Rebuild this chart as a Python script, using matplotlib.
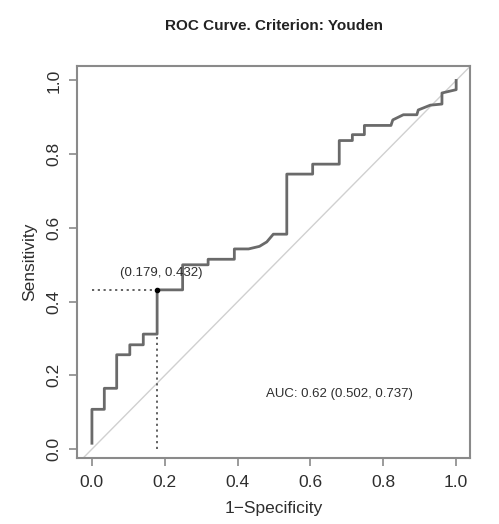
import matplotlib
matplotlib.use("Agg")
import matplotlib.pyplot as plt

plt.rcParams['font.family'] = ['Liberation Sans', 'DejaVu Sans']

# ROC curve points (1-specificity, sensitivity)
fpr = [0.0, 0.0, 0.034, 0.034, 0.068, 0.068, 0.104, 0.104, 0.141, 0.141,
       0.179, 0.179, 0.249, 0.249, 0.319, 0.319, 0.391, 0.391, 0.43, 0.46,
       0.48, 0.498, 0.535, 0.535, 0.606, 0.606, 0.679, 0.679, 0.715, 0.715,
       0.748, 0.748, 0.821, 0.826, 0.855, 0.892, 0.896, 0.929, 0.961, 0.961,
       1.0, 1.0]
tpr = [0.016, 0.108, 0.108, 0.165, 0.165, 0.256, 0.256, 0.283, 0.283, 0.312,
       0.312, 0.432, 0.432, 0.500, 0.500, 0.515, 0.515, 0.543, 0.543, 0.550,
       0.562, 0.583, 0.583, 0.746, 0.746, 0.773, 0.773, 0.837, 0.837, 0.853,
       0.853, 0.878, 0.878, 0.893, 0.907, 0.907, 0.920, 0.933, 0.936, 0.966,
       0.975, 1.0]

# Youden optimal cut point
best_fpr, best_tpr = 0.179, 0.432
auc_text = "AUC: 0.62 (0.502, 0.737)"
ticks = [0.0, 0.2, 0.4, 0.6, 0.8, 1.0]

fig = plt.figure(figsize=(4.99, 5.24), dpi=100)
ax = fig.add_axes([0.1543, 0.126, 0.7876, 0.7486])

frame_col = "#8a8a8a"
text_col = "#2e2e2e"

ax.axline((0, 0), (1, 1), color="#d0d0d0", lw=1.0, zorder=1)
ax.plot(fpr, tpr, color="#6a6a6a", lw=2.0, zorder=3)

# dotted guides to the optimal point
ax.plot([0, best_fpr], [best_tpr, best_tpr], color="#555555", lw=1.3,
        linestyle=(0, (1.2, 2.0)), zorder=2)
ax.plot([best_fpr, best_fpr], [0, best_tpr], color="#555555", lw=1.3,
        linestyle=(0, (1.2, 2.0)), zorder=2)
ax.plot(best_fpr, best_tpr, "o", color="black", ms=3, zorder=4)

ax.text(0.189, 0.479, f"({best_fpr}, {best_tpr})", ha="center", va="center",
        fontsize=9.5, color=text_col)
ax.text(0.679, 0.149, auc_text, ha="center", va="center",
        fontsize=9.5, color=text_col)

ax.set_xlim(-0.041, 1.038)
ax.set_ylim(-0.024, 1.04)
ax.set_xticks(ticks)
ax.set_yticks(ticks)
ax.set_xticklabels([f"{t:.1f}" for t in ticks])
ax.set_yticklabels([f"{t:.1f}" for t in ticks], rotation=90, va="center")

for s in ax.spines.values():
    s.set_color(frame_col)
    s.set_linewidth(1.5)
ax.tick_params(direction="out", length=6, width=1.2, color=frame_col,
               labelsize=12.5, labelcolor=text_col)
ax.tick_params(axis="x", pad=6.5)
ax.tick_params(axis="y", pad=5)

ax.set_xlabel("1\u2212Specificity", fontsize=12.5, color=text_col, labelpad=8)
ax.set_ylabel("Sensitivity", fontsize=12.5, color=text_col, labelpad=7)
ax.set_title("ROC Curve. Criterion: Youden", fontsize=11, fontweight="bold",
             color="#222222", pad=26)

fig.savefig("out.png", dpi=100)
